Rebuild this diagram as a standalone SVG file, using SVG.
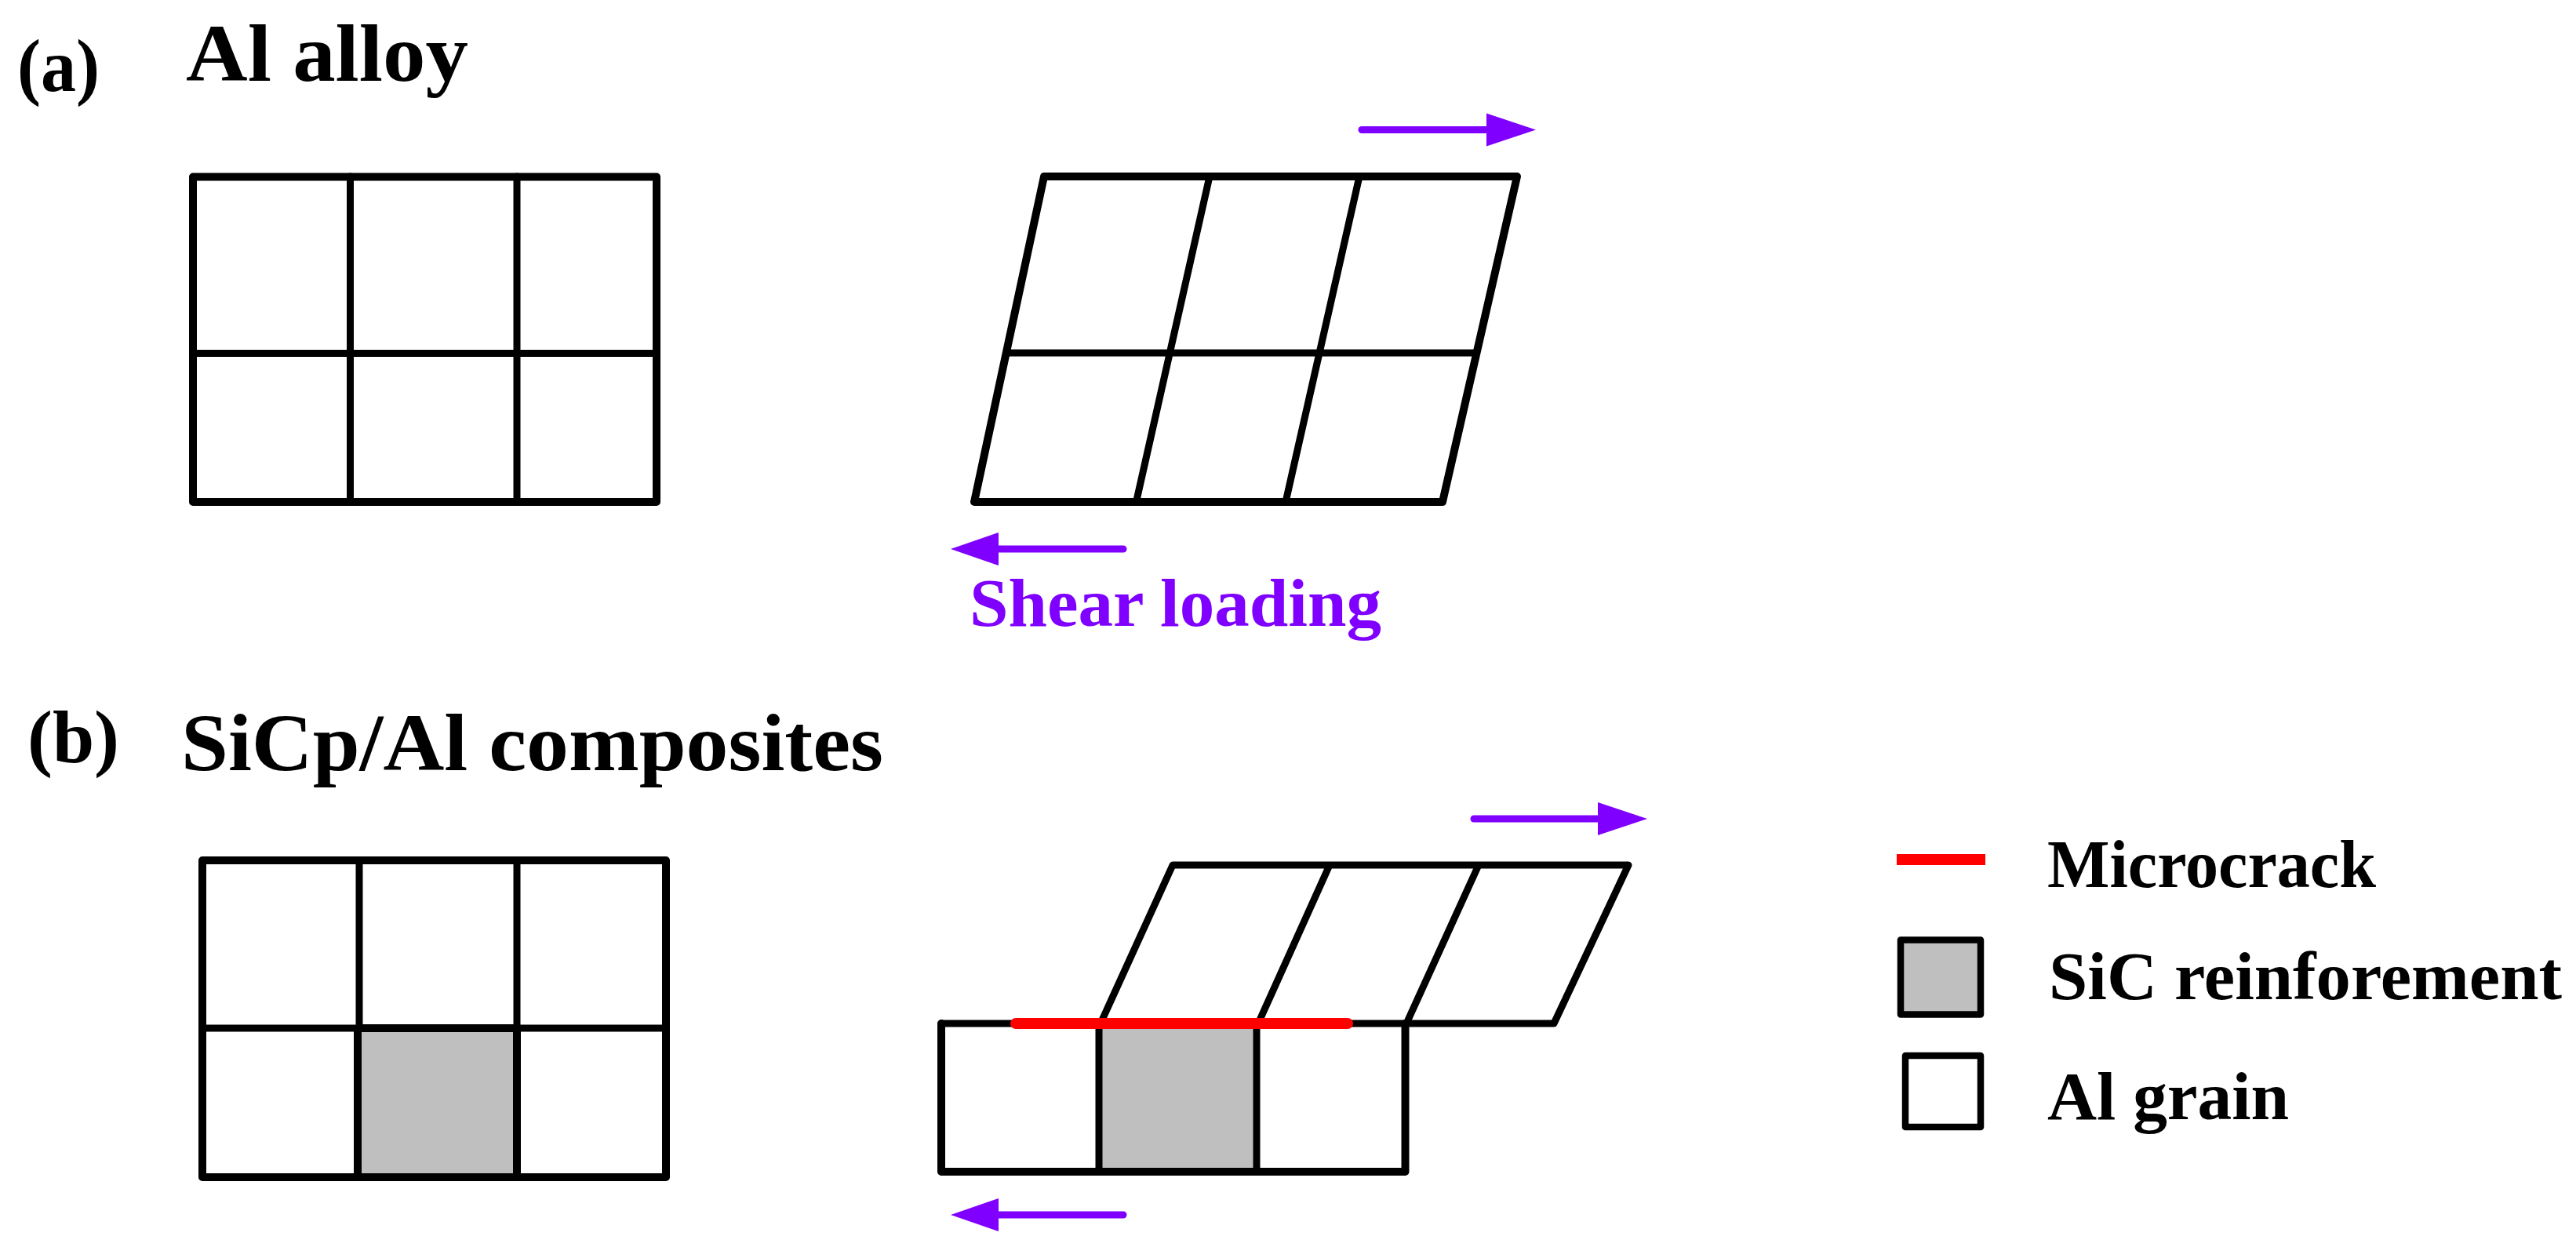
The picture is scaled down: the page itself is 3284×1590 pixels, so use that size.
<svg xmlns="http://www.w3.org/2000/svg" width="3284" height="1590" viewBox="0 0 3284 1590">
<defs>
<style>
.g{fill:none;stroke:#000;stroke-width:9;stroke-linejoin:round;stroke-linecap:round}
.o{fill:none;stroke:#000;stroke-width:10;stroke-linejoin:round;stroke-linecap:round}
.t{font-family:"Liberation Serif","Times New Roman",serif;font-weight:bold;fill:#000}
.f{fill:#bfbfbf}
.s{stroke:#7f00ff;stroke-width:9;stroke-linecap:round;fill:none}
.h{fill:#7f00ff}
.r{stroke:#f00;stroke-width:14;stroke-linecap:round;fill:none}
</style>
</defs>
<rect width="3284" height="1590" fill="#fff"/>
<g id="labels">
<text class="t" x="22" y="116" font-size="96" textLength="105" lengthAdjust="spacingAndGlyphs">(a)</text>
<text class="t" x="237" y="103" font-size="104" textLength="360" lengthAdjust="spacingAndGlyphs">Al alloy</text>
<text class="t" x="35" y="972" font-size="96" textLength="117" lengthAdjust="spacingAndGlyphs">(b)</text>
<text class="t" x="231" y="982" font-size="104" textLength="895" lengthAdjust="spacingAndGlyphs">SiCp/Al composites</text>
<text class="t" x="1236" y="798" font-size="86" textLength="525" lengthAdjust="spacingAndGlyphs" style="fill:#7f00ff">Shear loading</text>
</g>
<g id="a-initial">
<path class="g" d="M446.500 225V640M659 225V640M245.500 450.500H837"/>
<path class="o" d="M246 225.500H837V640H246Z"/>
</g>
<g id="a-sheared">
<path class="g" d="M1542 225L1448.500 640M1733 225L1639 640M1283 450H1882"/>
<path class="o" d="M1331 225H1934L1839 640H1242Z"/>
</g>
<g id="b-initial">
<rect class="f" x="458" y="1311" width="201" height="190"/>
<path class="g" d="M458 1097V1311M659 1097V1311M258 1311H849"/>
<path class="o" d="M258 1097H849V1501H258Z"/>
<path d="M457 1311H659M456 1311V1501M659 1311V1501" fill="none" stroke="#000" stroke-width="10"/>
</g>
<g id="b-sheared">
<rect class="f" x="1401" y="1305" width="201" height="189"/>
<path class="g" d="M1200 1305H1981L2076 1103H1495L1403 1305M1401 1305V1494M1602 1305V1494M1695 1103L1604 1305M1885 1103L1793 1305"/>
<path class="o" d="M1200 1305V1494H1791.500V1305"/>
<path class="r" d="M1295 1305H1718"/>
</g>
<g id="connectors">
<path class="s" d="M1736 165.500H1900"/><path class="h" d="M1895 144.500L1958 165.500L1895 186.500Z"/>
<path class="s" d="M1432 700H1268"/><path class="h" d="M1273 679L1212 700L1273 721Z"/>
<path class="s" d="M1879 1044H2042"/><path class="h" d="M2037 1023L2100 1044L2037 1065Z"/>
<path class="s" d="M1432 1549H1268"/><path class="h" d="M1273 1528L1212 1549L1273 1570Z"/>
</g>
<g id="legend-microcrack">
<rect x="2418" y="1089" width="113" height="14" fill="#f00"/>
<text class="t" x="2610" y="1131" font-size="86" textLength="419" lengthAdjust="spacingAndGlyphs">Microcrack</text>
</g>
<g id="legend-sic">
<rect class="f" x="2423" y="1198.500" width="102" height="95" style="stroke:#000;stroke-width:8.500;stroke-linejoin:round"/>
<text class="t" x="2612" y="1273.500" font-size="86" textLength="654" lengthAdjust="spacingAndGlyphs">SiC reinforement</text>
</g>
<g id="legend-al">
<rect x="2429" y="1346" width="96" height="91" fill="#fff" stroke="#000" stroke-width="8.500" stroke-linejoin="round"/>
<text class="t" x="2610" y="1427" font-size="86" textLength="308" lengthAdjust="spacingAndGlyphs">Al grain</text>
</g>
</svg>
